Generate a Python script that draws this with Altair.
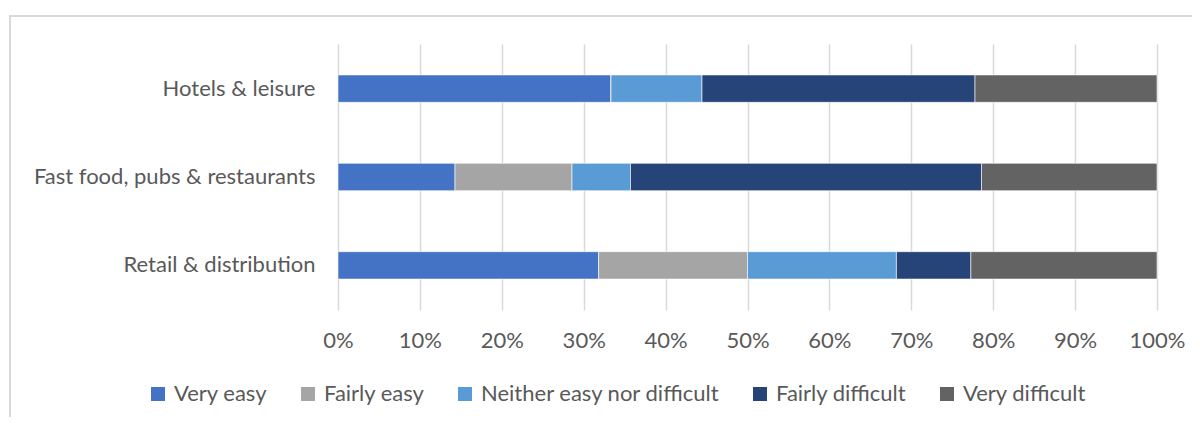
import altair as alt
import pandas as pd

categories = ["Hotels & leisure", "Fast food, pubs & restaurants", "Retail & distribution"]
responses = ["Very easy", "Fairly easy", "Neither easy nor difficult", "Fairly difficult", "Very difficult"]
colors = ["#4472C4", "#A5A5A5", "#5B9BD5", "#264478", "#636363"]
hotels = [3, 0, 1, 3, 2]
fastfood = [2, 2, 1, 6, 3]
retail = [7, 4, 4, 2, 5]

rows = []
for cat, vals in zip(categories, [hotels, fastfood, retail]):
    for i, (r, v) in enumerate(zip(responses, vals)):
        rows.append({"category": cat, "response": r, "value": v, "ord": i})
df = pd.DataFrame(rows)

FONT = "Lato"
LABEL = "#595959"
FS = 22

frame = alt.Chart(pd.DataFrame({"a": [0]})).mark_rect(
    fillOpacity=0, stroke="#d9d9d9", strokeWidth=2
).encode(
    x=alt.value(-328), x2=alt.value(1000), y=alt.value(-28), y2=alt.value(600)
)

bars = alt.Chart(df).mark_bar(stroke="white", strokeWidth=0.6).encode(
    y=alt.Y("category:N", sort=categories, title=None,
            scale=alt.Scale(paddingInner=0.69, paddingOuter=0.35),
            axis=alt.Axis(ticks=False, domain=False, labelPadding=23, labelLimit=400,
                          labelFontSize=FS, labelColor=LABEL, labelFont=FONT, grid=False)),
    x=alt.X("value:Q", stack="normalize", title=None,
            scale=alt.Scale(domain=[0, 1], nice=False),
            axis=alt.Axis(format=".0%", values=[i / 10 for i in range(11)], ticks=False,
                          domain=False, grid=True, gridColor="#d9d9d9", gridWidth=1.5,
                          labelFlush=False, labelOverlap=False,
                          labelPadding=20, labelFontSize=FS, labelColor=LABEL, labelFont=FONT)),
    color=alt.Color("response:N", sort=responses,
                    scale=alt.Scale(domain=responses, range=colors),
                    legend=alt.Legend(title=None, orient="none", direction="horizontal",
                                      legendX=-191, legendY=339, symbolType="square",
                                      symbolSize=196, symbolStrokeWidth=0, labelFontSize=FS,
                                      labelColor=LABEL, labelFont=FONT, columnPadding=29,
                                      labelOffset=5, labelLimit=400)),
    order=alt.Order("ord:Q", sort="ascending"),
)

chart = alt.layer(frame, bars).properties(
    width=819, height=266,
    autosize=alt.AutoSizeParams(type="none"),
    padding={"left": 330, "top": 36, "right": 35, "bottom": 107},
).configure_view(stroke=None)

chart.save("out.html", embed_options={"renderer": "svg", "actions": False})
